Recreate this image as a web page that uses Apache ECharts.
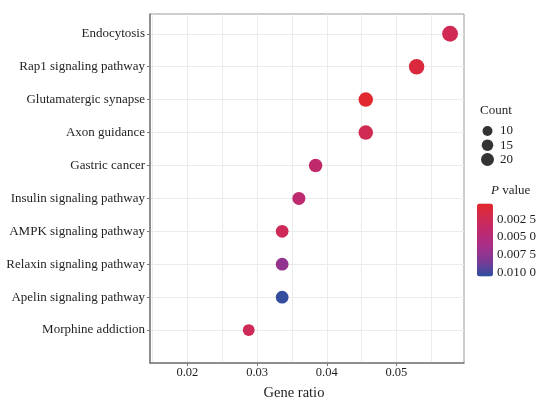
<!DOCTYPE html>
<html>
<head>
<meta charset="utf-8">
<script src="https://cdn.jsdelivr.net/npm/echarts@6/dist/echarts.min.js"></script>
<style>
    html, body { margin: 0; padding: 0; background: #fff; }
    #chart { width: 536px; height: 399px; }
</style>
</head>
<body>
<div id="chart"></div>
<script>
// KEGG pathways, top to bottom
const categories = [
    'Endocytosis',
    'Rap1 signaling pathway',
    'Glutamatergic synapse',
    'Axon guidance',
    'Gastric cancer',
    'Insulin signaling pathway',
    'AMPK signaling pathway',
    'Relaxin signaling pathway',
    'Apelin signaling pathway',
    'Morphine addiction'
];
const geneRatio = [0.0577, 0.0529, 0.0456, 0.0456, 0.0384, 0.0360, 0.0336, 0.0336, 0.0336, 0.0288];
const counts = [32, 30, 26, 26, 22, 20, 19, 19, 19, 16];
const pValues = [0.0024, 0.0012, 0.0004, 0.0023, 0.0039, 0.0042, 0.0027, 0.0074, 0.0104, 0.0026];

const xTicks = [0.02, 0.03, 0.04, 0.05];
const xGridLines = [0.015, 0.02, 0.025, 0.03, 0.035, 0.04, 0.045, 0.05, 0.055];
const sizeBreaks = [10, 15, 20];
const pTicks = [0.0025, 0.005, 0.0075, 0.01];

const FONT = '"Liberation Serif", "DejaVu Serif", serif';
const TEXT = '#1f1f1f';
const AXIS = '#7a7a7a';
const GRID = '#ebebeb';

// point diameter from count (area-like scale)
const sizeOf = (c) => Math.sqrt(31 + 6.9 * c);

const fmtP = (v) => {
    const s = v.toFixed(4);
    return s.slice(0, 5) + ' ' + s.slice(5);
};

const chart = echarts.init(document.getElementById('chart'));

const points = categories.map((name, i) => [geneRatio[i], i + 1, counts[i], pValues[i]]);

// one legend per size key so each icon gets its own diameter
const sizeLegends = sizeBreaks.map((b, i) => {
    const d = sizeOf(b);
    return {
        data: [String(b)],
        left: 487.5 - d / 2,
        top: 129.5 + i * 15 - d / 2,
        orient: 'vertical',
        icon: 'circle',
        itemWidth: d,
        itemHeight: d,
        padding: 0,
        selectedMode: false,
        itemStyle: { color: '#000' },
        textStyle: {
            fontFamily: FONT,
            fontSize: 13,
            color: TEXT,
            padding: [0, 0, 0, 7.5 - d / 2]
        }
    };
});

const option = {
    backgroundColor: '#fff',
    animation: false,
    title: [
        {
            text: 'Count',
            left: 480,
            top: 104,
            padding: 0,
            textStyle: { fontFamily: FONT, fontSize: 13, fontWeight: 'normal', color: TEXT }
        },
        {
            text: '{i|P} value',
            left: 491,
            top: 184,
            padding: 0,
            textStyle: {
                fontFamily: FONT, fontSize: 13, fontWeight: 'normal', color: TEXT,
                rich: { i: { fontFamily: FONT, fontSize: 13, fontStyle: 'italic', color: TEXT } }
            }
        }
    ],
    legend: sizeLegends,
    grid: [
        {
            left: 150, top: 14, right: 72, bottom: 36,
            outerBoundsMode: 'none',
            show: true,
            borderColor: '#9a9a9a',
            borderWidth: 1
        },
        // colour bar labels
        { left: 477, top: 203.5, width: 16, height: 73, outerBoundsMode: 'none' }
    ],
    visualMap: {
        type: 'continuous',
        seriesIndex: 0,
        dimension: 3,
        min: 0.0003,
        max: 0.0106,
        inverse: true,
        calculable: false,
        itemWidth: 16,
        itemHeight: 73,
        left: 477,
        top: 203.5,
        padding: 0,
        text: null,
        showLabel: false,
        inRange: {
            color: ['#e2282c', '#d02a53', '#bc2a72', '#a52f89', '#7a3b96', '#2d4f9f']
        }
    },
    xAxis: [
        {
            type: 'value',
            gridIndex: 0,
            min: 0.01463,
            max: 0.0597,
            name: 'Gene ratio',
            nameLocation: 'middle',
            nameGap: 23,
            nameTextStyle: { fontFamily: FONT, fontSize: 14.5, color: TEXT, padding: [0, 26, 0, 0] },
            axisLine: { show: true, lineStyle: { color: AXIS, width: 1.5 } },
            axisTick: { show: true, length: 3, customValues: xTicks, lineStyle: { color: AXIS } },
            axisLabel: {
                customValues: xTicks,
                margin: 3,
                fontFamily: FONT,
                fontSize: 12.5,
                color: TEXT,
                formatter: (v) => v.toFixed(2)
            },
            splitLine: { show: false }
        },
        {
            // carries only the vertical grid lines
            type: 'value',
            gridIndex: 0,
            position: 'top',
            min: 0.01463,
            max: 0.0597,
            axisLine: { show: false },
            axisTick: { show: false, customValues: xGridLines },
            axisLabel: { show: false },
            splitLine: { show: true, lineStyle: { color: GRID, width: 1 } }
        },
        { type: 'value', gridIndex: 1, show: false }
    ],
    yAxis: [
        {
            type: 'value',
            gridIndex: 0,
            min: 0.4,
            max: 11,
            inverse: true,
            axisLine: { show: true, lineStyle: { color: AXIS, width: 1.5 } },
            axisTick: { show: true, length: 3, customValues: categories.map((c, i) => i + 1), lineStyle: { color: AXIS } },
            axisLabel: {
                customValues: categories.map((c, i) => i + 1),
                margin: 5,
                fontFamily: FONT,
                fontSize: 13,
                color: TEXT,
                formatter: (v) => categories[Math.round(v) - 1] || ''
            },
            splitLine: { show: true, lineStyle: { color: GRID, width: 1 } }
        },
        {
            type: 'value',
            gridIndex: 1,
            min: 0.0003,
            max: 0.0106,
            inverse: true,
            position: 'right',
            z: 10,
            axisLine: { show: false },
            axisTick: {
                show: true, inside: true, length: 3, customValues: pTicks,
                lineStyle: { color: 'rgba(255,255,255,0.6)' }
            },
            axisLabel: {
                customValues: pTicks,
                margin: 4,
                fontFamily: FONT,
                fontSize: 13,
                color: TEXT,
                formatter: fmtP
            },
            splitLine: { show: false }
        }
    ],
    series: [
        {
            type: 'scatter',
            xAxisIndex: 0,
            yAxisIndex: 0,
            data: points,
            symbolSize: (d) => sizeOf(d[2]),
            itemStyle: { opacity: 1 },
            z: 5
        },
        ...sizeBreaks.map((b) => ({
            name: String(b),
            type: 'scatter',
            xAxisIndex: 0,
            yAxisIndex: 0,
            data: [],
            itemStyle: { color: '#000' }
        }))
    ]
};

chart.setOption(option);
</script>
</body>
</html>
